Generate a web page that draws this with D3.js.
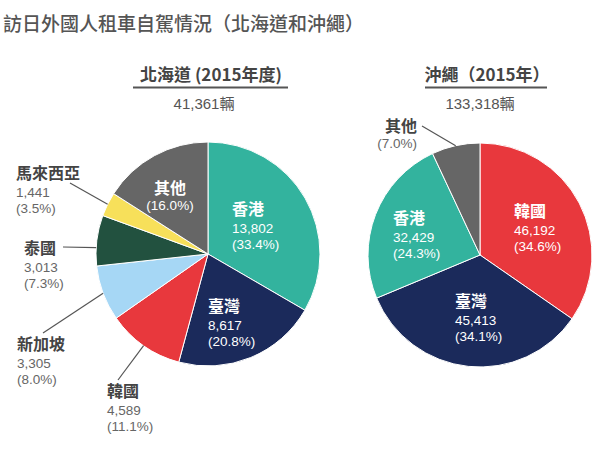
<!DOCTYPE html>
<html><head><meta charset="utf-8">
<script src="https://cdn.jsdelivr.net/npm/d3@7"></script>
<style>
html,body{margin:0;padding:0;background:#fff;}
svg{display:block;font-family:"Noto Sans CJK TC","Noto Sans",sans-serif;}
.num{font-family:"Liberation Sans","Noto Sans CJK TC",sans-serif;}
</style></head>
<body><svg id="chart" width="600" height="450"></svg>
<script>
// ---- data ----
const title = "訪日外國人租車自駕情況（北海道和沖繩）";

const hkdTitle = "北海道 (2015年度)";
const hkdTotal = "41,361輛";
const hkdCategories = ["香港","臺灣","韓國","新加坡","泰國","馬來西亞","其他"];
const hkdValues = [13802, 8617, 4589, 3305, 3013, 1441, 6594];
const hkdCountLabels = ["13,802","8,617","4,589","3,305","3,013","1,441",""];
const hkdPctLabels = ["(33.4%)","(20.8%)","(11.1%)","(8.0%)","(7.3%)","(3.5%)","(16.0%)"];

const okiTitle = "沖繩（2015年）";
const okiTotal = "133,318輛";
const okiCategories = ["韓國","臺灣","香港","其他"];
const okiValues = [46192, 45413, 32429, 9284];
const okiCountLabels = ["46,192","45,413","32,429",""];
const okiPctLabels = ["(34.6%)","(34.1%)","(24.3%)","(7.0%)"];

const colorCategories = ["香港","臺灣","韓國","新加坡","泰國","馬來西亞","其他"];
const colorRange = ["#33b39e","#1b2a5b","#e8383d","#a6d7f5","#22513f","#f7e05a","#666666"];

// ---- layout (positions only) ----
const R = 112;
const hkdLayout = {
  cx: 208, cy: 254, headX: 211, headY: 73, ruleX0: 133, ruleX1: 288, totalX: 204,
  labels: {
    "香港":   {x: 232, y: 208, anchor: "start", inside: true},
    "臺灣":   {x: 208, y: 305, anchor: "start", inside: true},
    "韓國":   {x: 107, y: 390, anchor: "start", lx: 118, ly: 380, at: 0.5},
    "新加坡": {x: 17,  y: 343, anchor: "start", lx: 43, ly: 333, at: 0.5},
    "泰國":   {x: 24,  y: 247, anchor: "start", lx: 63, ly: 247, at: 0.36},
    "馬來西亞": {x: 16, y: 172, anchor: "start", lx: 70, ly: 183, at: 0.5},
    "其他":   {x: 170, y: 187, anchor: "middle", inside: true}
  }
};
const okiLayout = {
  cx: 480, cy: 255, headX: 487, headY: 73, ruleX0: 425, ruleX1: 547, totalX: 480,
  labels: {
    "韓國": {x: 514, y: 210, anchor: "start", inside: true},
    "臺灣": {x: 455, y: 300, anchor: "start", inside: true},
    "香港": {x: 393, y: 217, anchor: "start", inside: true},
    "其他": {x: 417, y: 125, anchor: "end", lx: 422, ly: 126, at: 0.5}
  }
};

const svg = d3.select("#chart");
const color = d3.scaleOrdinal().domain(colorCategories).range(colorRange);

svg.append("text").attr("x", 3).attr("y", 22)
  .attr("dominant-baseline", "central")
  .attr("font-size", 19).attr("fill", "#555").attr("font-weight", 500)
  .text(title);

function drawPie(cats, vals, counts, pcts, head, total, L) {
  const g = svg.append("g");
  g.append("text").attr("x", L.headX).attr("y", L.headY)
    .attr("text-anchor", "middle").attr("dominant-baseline", "central")
    .attr("font-size", 17).attr("font-weight", 700).attr("fill", "#444").text(head);
  g.append("line").attr("x1", L.ruleX0).attr("x2", L.ruleX1).attr("y1", 87.5).attr("y2", 87.5)
    .attr("stroke", "#555").attr("stroke-width", 2);
  g.append("text").attr("class", "num").attr("x", L.totalX).attr("y", 103)
    .attr("text-anchor", "middle").attr("dominant-baseline", "central")
    .attr("font-size", 15).attr("fill", "#555").text(total);

  const data = cats.map((c, i) => ({cat: c, value: vals[i], count: counts[i], pct: pcts[i]}));
  const pie = d3.pie().sort(null).value(d => d.value);
  const arcs = pie(data);
  const arc = d3.arc().innerRadius(0).outerRadius(R);
  const pg = g.append("g").attr("transform", `translate(${L.cx},${L.cy})`);
  pg.selectAll("path").data(arcs).join("path")
    .attr("d", arc).attr("fill", d => color(d.data.cat))
    .attr("stroke", "#fff").attr("stroke-width", 1);

  arcs.forEach(a => {
    const lab = L.labels[a.data.cat];
    const inside = !!lab.inside;
    if (!inside) {
      const ang = a.startAngle + (a.endAngle - a.startAngle) * lab.at;
      const sx = L.cx + R * Math.sin(ang), sy = L.cy - R * Math.cos(ang);
      g.append("line").attr("x1", sx).attr("y1", sy).attr("x2", lab.lx).attr("y2", lab.ly)
        .attr("stroke", "#555").attr("stroke-width", 1.2);
    }
    const t = g.append("g");
    const nameCol = inside ? "#fff" : "#444";
    const numCol = inside ? "#fff" : "#666";
    t.append("text").attr("x", lab.x).attr("y", lab.y)
      .attr("text-anchor", lab.anchor).attr("dominant-baseline", "central")
      .attr("font-size", 16).attr("font-weight", 700).attr("fill", nameCol).text(a.data.cat);
    let yy = lab.y + 20;
    if (a.data.count) {
      t.append("text").attr("class", "num").attr("x", lab.x).attr("y", yy)
        .attr("text-anchor", lab.anchor).attr("dominant-baseline", "central")
        .attr("font-size", 13.5).attr("fill", numCol).text(a.data.count);
      yy += 16;
    } else { yy -= 2; }
    t.append("text").attr("class", "num").attr("x", lab.x).attr("y", yy)
      .attr("text-anchor", lab.anchor).attr("dominant-baseline", "central")
      .attr("font-size", 13.5).attr("fill", numCol).text(a.data.pct);
  });
}

drawPie(hkdCategories, hkdValues, hkdCountLabels, hkdPctLabels, hkdTitle, hkdTotal, hkdLayout);
drawPie(okiCategories, okiValues, okiCountLabels, okiPctLabels, okiTitle, okiTotal, okiLayout);
</script></body></html>
